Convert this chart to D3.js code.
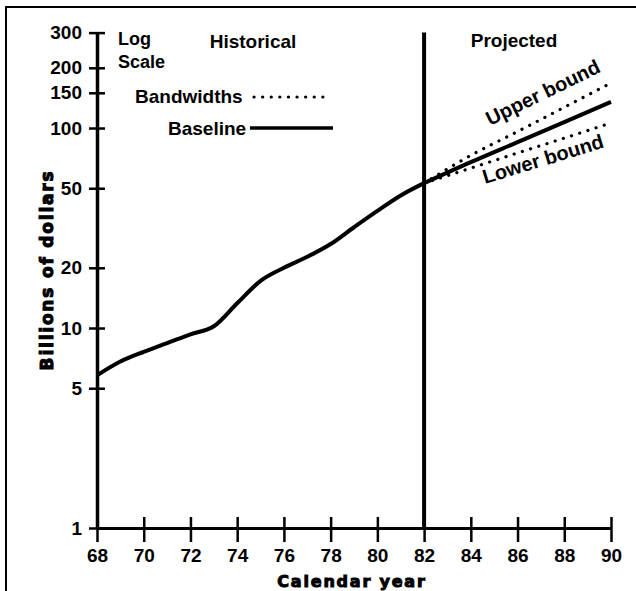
<!DOCTYPE html>
<html lang="en">
<head>
  <meta charset="UTF-8">
  <title>Billions of dollars, historical and projected</title>
  <script src="https://d3js.org/d3.v7.min.js"></script>
  <style>
    body { margin: 0; background: #fff; }
    text { font-family: "Liberation Sans", Arial, sans-serif; fill: #000; }
  </style>
</head>
<body>
  <div id="chart"></div>
  <script>
    // historical series (calendar years 1968-1982)
    const histYears = [68, 69, 70, 71, 72, 73, 74, 75, 76, 77, 78, 79, 80, 81, 82];
    const histValues = [5.8, 6.8, 7.6, 8.4, 9.3, 10.2, 13.3, 17.2, 20.0, 22.7, 26.3, 31.9, 38.5, 46.0, 53.0];

    // projection 1982-1990
    const projYears = [82, 84, 86, 88, 90];
    const projBaseline = [53, 67.5, 85, 107, 135];
    const upperBound = [53, 73, 96, 127, 168];
    const lowerBound = [53, 63, 75, 89, 106];

    const yTicks = [1, 5, 10, 20, 50, 100, 150, 200, 300];
    const xTicks = [68, 70, 72, 74, 76, 78, 80, 82, 84, 86, 88, 90];
    const splitYear = 82;

    const width = 636;
    const height = 591;

    const svg = d3.select("#chart")
      .append("svg")
      .attr("width", width)
      .attr("height", height);

    const x = d3.scaleLinear().domain([68, 90]).range([97, 611]);
    const y = d3.scaleLog().domain([1, 300]).range([528, 32.6]);

    // frame (top and left edges only, like the scan)
    svg.append("line")
      .attr("x1", 5).attr("y1", 7).attr("x2", width).attr("y2", 7)
      .attr("stroke", "#000").attr("stroke-width", 2);
    svg.append("line")
      .attr("x1", 6).attr("y1", 7).attr("x2", 6).attr("y2", height)
      .attr("stroke", "#000").attr("stroke-width", 2);

    // y axis
    const yAxis = svg.append("g")
      .attr("transform", `translate(${x(68)},0)`)
      .call(d3.axisLeft(y).tickValues(yTicks).tickFormat(d3.format("d")).tickSize(8).tickSizeOuter(0));
    yAxis.select(".domain").attr("stroke-width", 3.5);
    yAxis.selectAll(".tick line").attr("x1", -8).attr("x2", 8).attr("stroke-width", 2.5);
    yAxis.selectAll(".tick text")
      .attr("x", -15)
      .attr("font-size", 19)
      .attr("font-weight", "bold")
      .style("font-family", "'Liberation Sans', Arial, sans-serif");

    // x axis
    const xAxis = svg.append("g")
      .attr("transform", `translate(0,${y(1)})`)
      .call(d3.axisBottom(x).tickValues(xTicks).tickFormat(d => d).tickSize(14).tickSizeOuter(0));
    xAxis.select(".domain").attr("stroke-width", 3);
    xAxis.selectAll(".tick line").attr("y1", -11).attr("y2", 14).attr("stroke-width", 2.5);
    xAxis.selectAll(".tick text")
      .attr("y", 21)
      .attr("font-size", 19)
      .attr("font-weight", "bold")
      .style("font-family", "'Liberation Sans', Arial, sans-serif");

    // divider historical / projected
    svg.append("line")
      .attr("x1", x(splitYear)).attr("x2", x(splitYear))
      .attr("y1", y(300)).attr("y2", y(1))
      .attr("stroke", "#000").attr("stroke-width", 4);

    const line = d3.line()
      .x(d => x(d[0]))
      .y(d => y(d[1]))
      .curve(d3.curveMonotoneX);

    const dots = "0.1 8.5";

    svg.append("path")
      .datum(projYears.map((yr, i) => [yr, upperBound[i]]))
      .attr("d", line)
      .attr("fill", "none").attr("stroke", "#000")
      .attr("stroke-width", 3.2).attr("stroke-linecap", "round")
      .attr("stroke-dasharray", dots);

    svg.append("path")
      .datum(projYears.map((yr, i) => [yr, lowerBound[i]]))
      .attr("d", line)
      .attr("fill", "none").attr("stroke", "#000")
      .attr("stroke-width", 3.2).attr("stroke-linecap", "round")
      .attr("stroke-dasharray", dots);

    svg.append("path")
      .datum(histYears.map((yr, i) => [yr, histValues[i]]))
      .attr("d", line)
      .attr("fill", "none").attr("stroke", "#000")
      .attr("stroke-width", 4).attr("stroke-linejoin", "round");

    svg.append("path")
      .datum(projYears.map((yr, i) => [yr, projBaseline[i]]))
      .attr("d", line)
      .attr("fill", "none").attr("stroke", "#000")
      .attr("stroke-width", 4).attr("stroke-linejoin", "round");

    // labels
    const label = (txt, px, py, size, anchor) => svg.append("text")
      .attr("x", px).attr("y", py)
      .attr("font-size", size)
      .attr("font-weight", "bold")
      .attr("text-anchor", anchor || "start")
      .text(txt);

    label("Log", 118, 45, 18);
    label("Scale", 118, 68, 18);
    label("Historical", 253, 48, 19, "middle");
    label("Projected", 514, 47, 19, "middle");
    label("Bandwidths", 135, 103, 19);
    label("Baseline", 168, 135, 19);

    // legend samples
    svg.append("line")
      .attr("x1", 254).attr("x2", 330).attr("y1", 97).attr("y2", 97)
      .attr("stroke", "#000").attr("stroke-width", 3.2)
      .attr("stroke-linecap", "round").attr("stroke-dasharray", dots);
    svg.append("line")
      .attr("x1", 250).attr("x2", 333).attr("y1", 128).attr("y2", 128)
      .attr("stroke", "#000").attr("stroke-width", 3.5);

    svg.append("text")
      .attr("transform", "translate(490,126) rotate(-26)")
      .attr("font-size", 20).attr("font-weight", "bold")
      .text("Upper bound");
    svg.append("text")
      .attr("transform", "translate(485,184) rotate(-17)")
      .attr("font-size", 20).attr("font-weight", "bold")
      .text("Lower bound");

    // axis titles
    svg.append("text")
      .attr("x", 352).attr("y", 587)
      .attr("text-anchor", "middle")
      .attr("font-size", 16)
      .attr("font-weight", "bold")
      .attr("letter-spacing", 1.8)
      .attr("stroke", "#000").attr("stroke-width", 1)
      .style("font-family", "'DejaVu Sans', sans-serif")
      .text("Calendar year");

    svg.append("text")
      .attr("transform", "translate(53,270) rotate(-90)")
      .attr("text-anchor", "middle")
      .attr("font-size", 17)
      .attr("font-weight", "bold")
      .attr("letter-spacing", 1.8)
      .attr("stroke", "#000").attr("stroke-width", 1)
      .style("font-family", "'DejaVu Sans', sans-serif")
      .text("Billions of dollars");
  </script>
</body>
</html>
